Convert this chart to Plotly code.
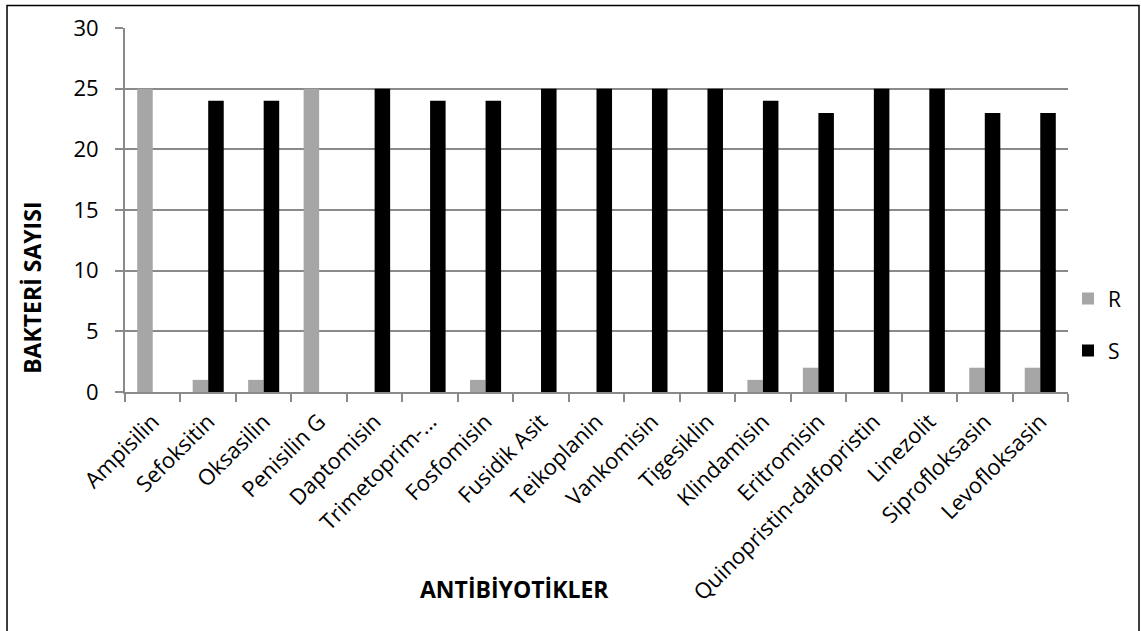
import plotly.graph_objects as go

categories = ["Ampisilin", "Sefoksitin", "Oksasilin", "Penisilin G", "Daptomisin",
              "Trimetoprim-...", "Fosfomisin", "Fusidik Asit", "Teikoplanin", "Vankomisin",
              "Tigesiklin", "Klindamisin", "Eritromisin", "Quinopristin-dalfopristin",
              "Linezolit", "Siprofloksasin", "Levofloksasin"]
r_values = [25, 1, 1, 25, 0, 0, 1, 0, 0, 0, 0, 1, 2, 0, 0, 2, 2]
s_values = [0, 24, 24, 0, 25, 24, 24, 25, 25, 25, 25, 24, 23, 25, 25, 23, 23]
y_ticks = [0, 5, 10, 15, 20, 25, 30]

FONT = "Open Sans"
GRAY = "#8a8a8a"
fig = go.Figure()
fig.add_trace(go.Bar(name="R", x=categories, y=r_values, marker_color="#a6a6a6",
                     marker_line_width=0, legend="legend"))
fig.add_trace(go.Bar(name="S", x=categories, y=s_values, marker_color="#000000",
                     marker_line_width=0, legend="legend2"))

leg_common = dict(xanchor="left", yanchor="middle", font=dict(family=FONT, size=21),
                  bgcolor="rgba(0,0,0,0)", itemwidth=30)

fig.update_layout(
    width=1141, height=631,
    margin=dict(l=125, r=73, t=28, b=239),
    paper_bgcolor="white", plot_bgcolor="white",
    barmode="group", bargap=0.44, bargroupgap=0,
    font=dict(family=FONT, size=21, color="black"),
    showlegend=True,
    legend=dict(x=1.0, y=0.256, **leg_common),
    legend2=dict(x=1.0, y=0.113, **leg_common),
    xaxis=dict(
        tickangle=-45, tickfont=dict(family=FONT, size=22),
        showline=True, linecolor=GRAY, linewidth=2,
        ticks="outside", ticklen=8, tickcolor=GRAY, tickwidth=2,
        tickson="boundaries", showgrid=False, ticklabelstandoff=6,
    ),
    yaxis=dict(
        range=[0, 30], tickvals=y_ticks, tickfont=dict(family=FONT, size=22),
        showline=True, linecolor=GRAY, linewidth=2,
        ticks="outside", ticklen=8, tickcolor=GRAY, tickwidth=2, ticklabelstandoff=12,
        showgrid=True, gridcolor=GRAY, gridwidth=2, zeroline=False,
    ),
    annotations=[
        dict(text="<b>ANTİBİYOTİKLER</b>", xref="paper", yref="paper",
             x=0.413, y=-0.540, xanchor="center", yanchor="middle", showarrow=False,
             font=dict(family=FONT, size=23)),
        dict(text="<b>BAKTERİ SAYISI</b>", xref="paper", yref="paper", textangle=-90,
             x=-0.098, y=0.285, xanchor="center", yanchor="middle", showarrow=False,
             font=dict(family=FONT, size=23)),
    ],
    shapes=[dict(type="rect", xref="paper", yref="paper",
                 x0=-0.1251, x1=1.0753, y0=-0.70, y1=1.062,
                 line=dict(color="black", width=1.5), layer="below")],
)
fig.write_html("out.html", config={"displayModeBar": False},
               post_script="document.body.style.margin='0';")
